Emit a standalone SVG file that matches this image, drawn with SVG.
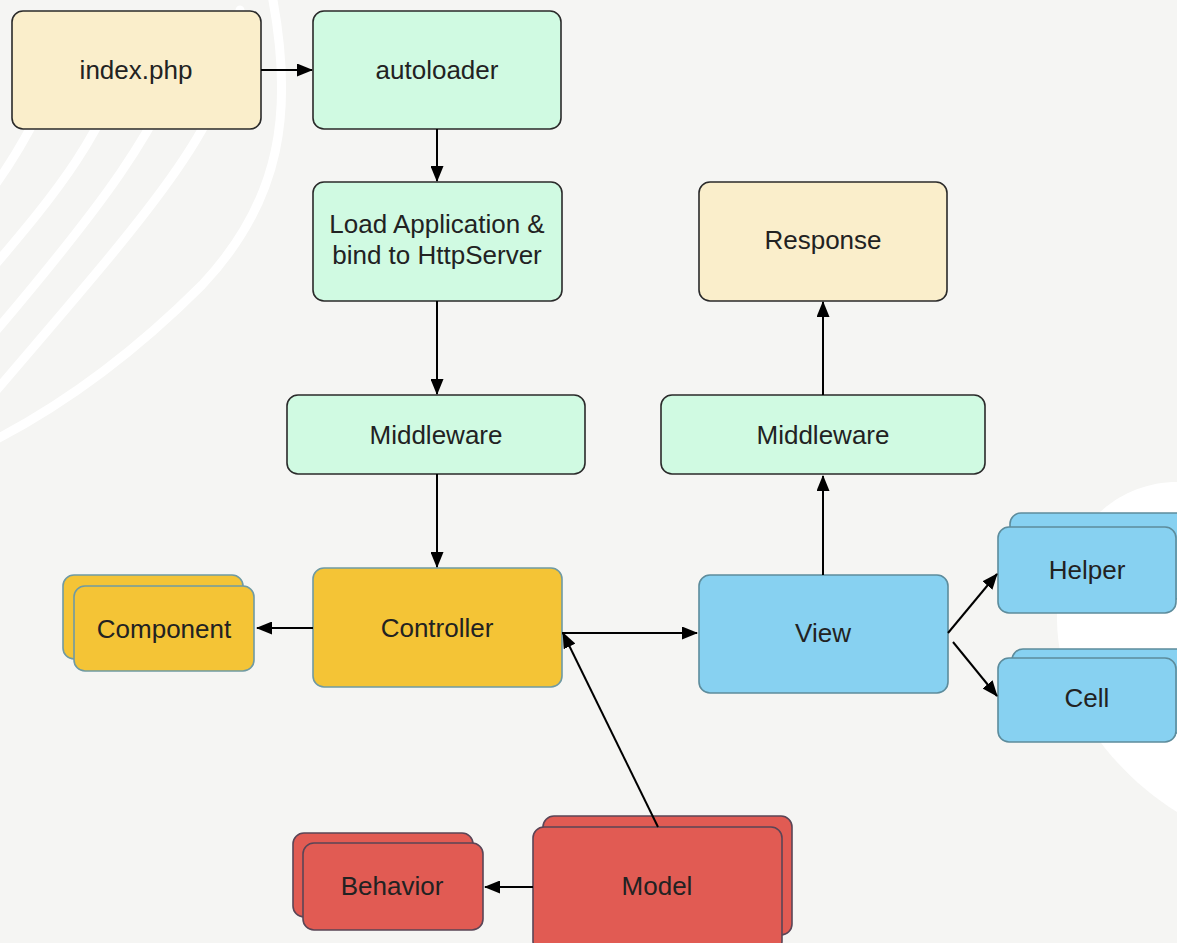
<svg xmlns="http://www.w3.org/2000/svg" width="1177" height="943" viewBox="0 0 1177 943">
<defs>
<marker id="ah" markerUnits="userSpaceOnUse" markerWidth="16" markerHeight="13" refX="15" refY="6.5" orient="auto">
<path d="M0,0 L16,6.5 L0,13 Z" fill="#000"/>
</marker>
</defs>
<style>
.t{font-family:"Liberation Sans",Arial,Helvetica,sans-serif;font-size:26px;fill:#222;text-anchor:middle}
.cream{fill:#faeecb;stroke:#2a2a2a;stroke-width:1.6}
.mint{fill:#d0fae2;stroke:#2a2a2a;stroke-width:1.6}
.yel{fill:#f4c436;stroke:#6f9aa3;stroke-width:1.6}
.blue{fill:#87d1f1;stroke:#5d8c9c;stroke-width:1.6}
.red{fill:#e15b53;stroke:#5a4556;stroke-width:1.6}
.stripe{fill:none;stroke:#ffffff;stroke-width:9;stroke-linecap:round}
.c{fill:none;stroke:#000;stroke-width:2;marker-end:url(#ah)}
</style>
<rect x="0" y="0" width="1177" height="943" fill="#f5f5f3"/>
<g id="background">
<path class="stripe" d="M272 -5 C294 110 282 200 202 285 C142 345 72 400 -5 440"/>
<path class="stripe" d="M240 10 C235 120 150 210 -5 392"/>
<path class="stripe" d="M190 30 C170 120 90 220 -5 332"/>
<path class="stripe" d="M130 40 C110 130 50 200 -5 265"/>
<path class="stripe" d="M70 30 C50 100 20 150 -5 185"/>
<path d="M1177 482 C1110 482 1055 540 1057 620 C1058 700 1110 770 1177 812 Z" fill="#ffffff"/>
</g>
<g id="index">
<rect class="cream" x="12" y="11" width="249" height="118" rx="11"/>
<text class="t" x="136" y="79">index.php</text>
</g>
<g id="autoloader">
<rect class="mint" x="313" y="11" width="248" height="118" rx="11"/>
<text class="t" x="437" y="79">autoloader</text>
</g>
<g id="loadapp">
<rect class="mint" x="313" y="182" width="249" height="119" rx="11"/>
<text class="t" x="437" y="233">Load Application &amp;</text>
<text class="t" x="437" y="264">bind to HttpServer</text>
</g>
<g id="middleware-in">
<rect class="mint" x="287" y="395" width="298" height="79" rx="11"/>
<text class="t" x="436" y="444">Middleware</text>
</g>
<g id="response">
<rect class="cream" x="699" y="182" width="248" height="119" rx="11"/>
<text class="t" x="823" y="249">Response</text>
</g>
<g id="middleware-out">
<rect class="mint" x="661" y="395" width="324" height="79" rx="11"/>
<text class="t" x="823" y="444">Middleware</text>
</g>
<g id="controller">
<rect class="yel" x="313" y="568" width="249" height="119" rx="11"/>
<text class="t" x="437" y="637">Controller</text>
</g>
<g id="component">
<rect class="yel" x="63" y="575" width="180" height="84" rx="11"/>
<rect class="yel" x="74" y="586" width="180" height="85" rx="11"/>
<text class="t" x="164" y="638">Component</text>
</g>
<g id="view">
<rect class="blue" x="699" y="575" width="249" height="118" rx="11"/>
<text class="t" x="823" y="642">View</text>
</g>
<g id="helper">
<rect class="blue" x="1010" y="513" width="180" height="86" rx="11"/>
<rect class="blue" x="998" y="527" width="178" height="86" rx="11"/>
<text class="t" x="1087" y="579">Helper</text>
</g>
<g id="cell">
<rect class="blue" x="1012" y="649" width="180" height="84" rx="11"/>
<rect class="blue" x="998" y="658" width="178" height="84" rx="11"/>
<text class="t" x="1087" y="707">Cell</text>
</g>
<g id="behavior">
<rect class="red" x="293" y="833" width="180" height="84" rx="11"/>
<rect class="red" x="303" y="843" width="180" height="87" rx="11"/>
<text class="t" x="392" y="895">Behavior</text>
</g>
<g id="model">
<rect class="red" x="543" y="816" width="249" height="119" rx="11"/>
<rect class="red" x="533" y="827" width="249" height="125" rx="11"/>
<text class="t" x="657" y="895">Model</text>
</g>
<g id="connectors">
<line class="c" x1="261" y1="70" x2="312" y2="70"/>
<line class="c" x1="437" y1="129" x2="437" y2="181"/>
<line class="c" x1="437" y1="301" x2="437" y2="394"/>
<line class="c" x1="437" y1="474" x2="437" y2="567"/>
<line class="c" x1="313" y1="628" x2="257" y2="628"/>
<line class="c" x1="562" y1="633" x2="697" y2="633"/>
<line class="c" x1="658" y1="827" x2="563" y2="633"/>
<line class="c" x1="533" y1="887" x2="485" y2="887"/>
<line class="c" x1="823" y1="575" x2="823" y2="476"/>
<line class="c" x1="823" y1="395" x2="823" y2="302"/>
<line class="c" x1="948" y1="633" x2="997" y2="574"/>
<line class="c" x1="953" y1="642" x2="997" y2="696"/>
</g>
</svg>
